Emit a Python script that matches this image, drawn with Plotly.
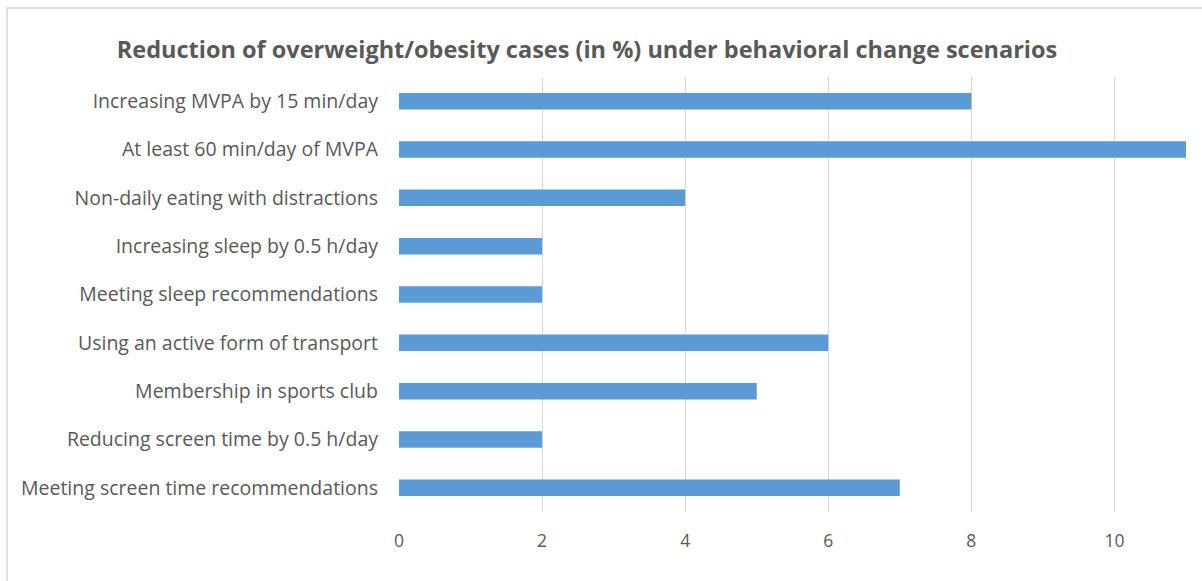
import plotly.graph_objects as go

categories = [
    "Increasing MVPA by 15 min/day",
    "At least 60 min/day of MVPA",
    "Non-daily eating with distractions",
    "Increasing sleep by 0.5 h/day",
    "Meeting sleep recommendations",
    "Using an active form of transport",
    "Membership in sports club",
    "Reducing screen time by 0.5 h/day",
    "Meeting screen time recommendations",
]
values = [8, 11, 4, 2, 2, 6, 5, 2, 7]
x_ticks = [0, 2, 4, 6, 8, 10]

FONT = "Open Sans"
GREY = "#595959"

fig = go.Figure(
    go.Bar(
        y=categories,
        x=values,
        orientation="h",
        marker=dict(color="#5B9BD5", line=dict(width=0)),
        width=0.34,
    )
)

fig.update_layout(
    width=1202,
    height=581,
    margin=dict(l=399, r=16, t=77, b=69),
    paper_bgcolor="white",
    plot_bgcolor="white",
    showlegend=False,
    title=dict(
        text="<b>Reduction of overweight/obesity cases (in %) under behavioral change scenarios</b>",
        x=587 / 1202,
        xanchor="center",
        xref="container",
        y=1 - 50 / 581,
        yanchor="middle",
        yref="container",
        font=dict(family=FONT, size=23.5, color=GREY),
    ),
    xaxis=dict(
        range=[0, 11],
        tickvals=x_ticks,
        showgrid=True,
        gridcolor="#D9D9D9",
        gridwidth=1,
        zeroline=False,
        showline=False,
        ticks="",
        ticklabelstandoff=16,
        tickfont=dict(family=FONT, size=17.5, color=GREY),
    ),
    yaxis=dict(
        categoryorder="array",
        categoryarray=categories,
        autorange="reversed",
        showgrid=False,
        zeroline=False,
        showline=False,
        ticks="",
        ticklabelstandoff=20,
        tickfont=dict(family=FONT, size=19.5, color=GREY),
    ),
    shapes=[
        dict(type="rect", xref="paper", yref="paper",
             x0=-392 / 787, x1=1.1, y0=-0.3, y1=1 + 69 / 435,
             line=dict(color="#D9D9D9", width=1.5), fillcolor="rgba(0,0,0,0)",
             layer="below"),
    ],
)

fig.write_html("out.html")
